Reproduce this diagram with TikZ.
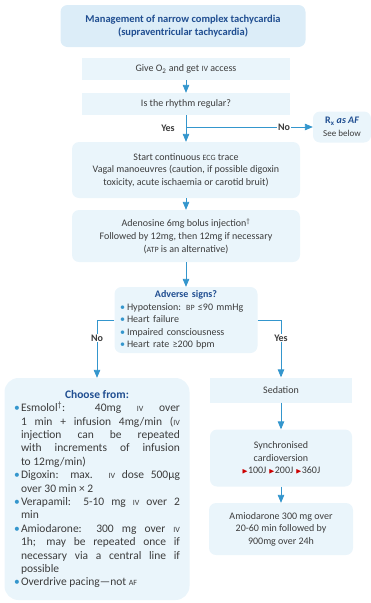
\documentclass[tikz,border=0pt]{standalone}
\usepackage{amssymb}
\usepackage{fontspec}
\setmainfont{Carlito}
\usepackage{tikz}
\usetikzlibrary{calc}
\usetikzlibrary{arrows}

\definecolor{boxfill}{RGB}{234,245,251}
\definecolor{headfill}{RGB}{220,237,248}
\definecolor{linkblue}{RGB}{52,150,205}
\definecolor{headblue}{RGB}{32,78,145}
\definecolor{txtgray}{RGB}{60,60,60}

\newcommand{\basefont}{\fontsize{10}{12.6}\selectfont}
\newcommand{\sm}[1]{{\footnotesize #1}}
\newcommand{\bul}{\par\hangindent=7pt\hangafter=1\noindent\makebox[7pt][l]{\textcolor{linkblue}{\textbullet}}}
\newcommand{\tri}{\textcolor{red!80!black}{\scriptsize$\blacktriangleright$}}

\tikzset{
  plainbox/.style={fill=boxfill, minimum height=22pt, text=txtgray, align=center, inner sep=3pt, font=\basefont},
  roundbox/.style={plainbox, rounded corners=7pt},
  flow/.style={linkblue, thick, -triangle 45},
  link/.style={linkblue, thick},
  lbl/.style={font=\basefont\bfseries, text=txtgray, fill=white, inner sep=1pt}
}

\begin{document}
\begin{tikzpicture}[x=1pt, y=-1pt]
    \useasboundingbox (0,0) rectangle (371,603);
    % top of the chart
    \node[roundbox, fill=headfill, minimum width=245pt, minimum height=42pt, text=headblue, font=\fontsize{10.5}{13}\selectfont\bfseries] (title) at (183,26) {Management of narrow complex tachycardia\\(supraventricular tachycardia)};
    \node[plainbox, minimum width=208pt] (give) at (186,69) {Give O\textsubscript{2} and get \sm{IV} access};
    \node[plainbox, minimum width=208pt] (rhythm) at (186,104) {Is the rhythm regular?};
    \node[roundbox, minimum width=58pt, minimum height=31pt, inner sep=1pt] (rx) at (342,127) {\textcolor{headblue}{\bfseries R\textsubscript{x} \itshape as AF}\\{\small See below}};
    \node[roundbox, minimum width=228pt, minimum height=56pt] (ecg) at (186,170) {Start continuous \sm{ECG} trace\\Vagal manoeuvres (caution, if possible digoxin\\toxicity, acute ischaemia or carotid bruit)};
    \node[roundbox, minimum width=228pt, minimum height=52pt] (adeno) at (186,236) {Adenosine 6mg bolus injection\textsuperscript{†}\\Followed by 12mg, then 12mg if necessary\\(\sm{ATP} is an alternative)};
    \node[roundbox, minimum width=143pt, minimum height=66pt, text width=132pt, align=left] (adverse) at (186,320) {{\centering\textcolor{headblue}{\bfseries Adverse signs?}\par}\bul Hypotension: \sm{BP} ≤90 mmHg\bul Heart failure\bul Impaired consciousness\bul Heart rate ≥200 bpm};
    % left branch, lines broken by hand
    \node[roundbox, rounded corners=14pt, minimum width=185pt, minimum height=222pt, text width=166pt, align=justify, font=\fontsize{11.5}{13.4}\selectfont] (choose) at (97,489) {{\centering\textcolor{headblue}{\bfseries Choose from:}\par}\bul Esmolol\textsuperscript{†}: 40mg \sm{IV} over\linebreak 1 min + infusion 4mg/min (\sm{IV}\linebreak injection can be repeated\linebreak with increments of infusion\linebreak to 12mg/min)\bul Digoxin: max. \sm{IV} dose 500μg\linebreak over 30 min × 2\bul Verapamil: 5-10 mg \sm{IV} over 2\linebreak min\bul Amiodarone: 300 mg over \sm{IV}\linebreak 1h; may be repeated once if\linebreak necessary via a central line if\linebreak possible\bul Overdrive pacing—not \sm{AF}};
    % right branch
    \node[plainbox, minimum width=142pt, minimum height=25pt] (sedation) at (281,390) {Sedation};
    \node[roundbox, minimum width=142pt, minimum height=57pt] (sync) at (281,458) {Synchronised\\cardioversion\\\tri100J \tri200J \tri360J};
    \node[roundbox, minimum width=144pt, minimum height=52pt] (amio) at (281,529) {Amiodarone 300 mg over\\20-60 min followed by\\900mg over 24h};

    \node[lbl] (yes1) at (168,128) {Yes};
    \node[lbl] (no1) at (284,127) {No};
    \node[lbl] (no2) at (97,338) {No};
    \node[lbl] (yes2) at (281,338) {Yes};
    \coordinate (split) at (186,127);

    \draw[flow] (give) -- (rhythm);
    \draw[link] (rhythm) -- (split);
    \draw[flow] (split) -- (ecg);
    \draw[link] (split) -- (no1.west);
    \draw[flow] (no1.east) -- (rx.west);
    \draw[flow] (ecg) -- (adeno);
    \draw[flow] (adeno) -- (adverse);
    \draw[link] (adverse.west) -| (no2.north);
    \draw[flow] (no2.south) -- (choose.north);
    \draw[link] (adverse.east) -| (yes2.north);
    \draw[flow] (yes2.south) -- (sedation.north);
    \draw[flow] (sedation) -- (sync);
    \draw[flow] (sync) -- (amio);
\end{tikzpicture}
\end{document}
